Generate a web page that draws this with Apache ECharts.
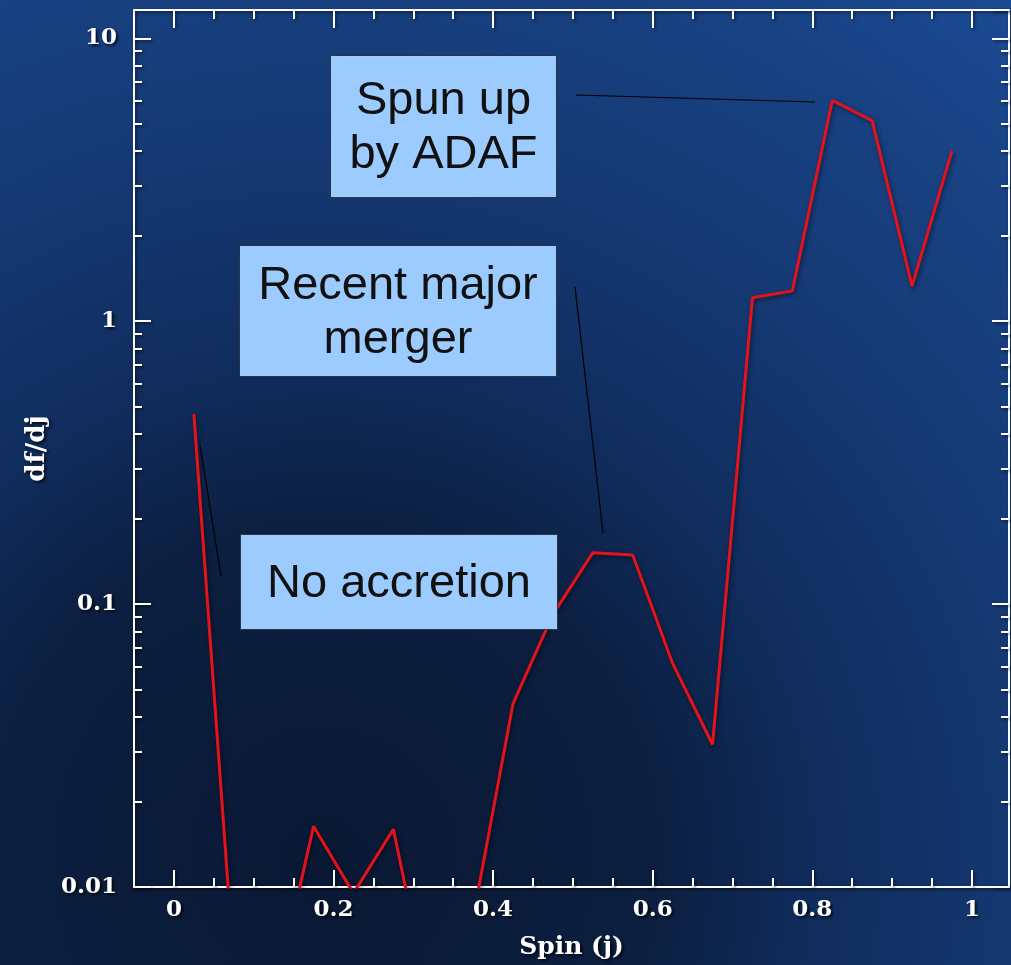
<!DOCTYPE html>
<html>
<head>
<meta charset="utf-8">
<script src="https://cdn.jsdelivr.net/npm/echarts@6/dist/echarts.min.js"></script>
<style>
html,body{margin:0;padding:0;background:#0f2b5a;}
#chart{width:1011px;height:965px;}
</style>
</head>
<body>
<div id="chart"></div>
<script>
// ---- data ----
var spinBins = [0.025, 0.075, 0.125, 0.175, 0.225, 0.275, 0.325, 0.375, 0.425, 0.475,
                0.525, 0.575, 0.625, 0.675, 0.725, 0.775, 0.825, 0.875, 0.925, 0.975];
var dfdj = [0.47, 0.0053, 0.0039, 0.0164, 0.0095, 0.0160, 0.0034, 0.0078, 0.0445, 0.092,
            0.152, 0.149, 0.0617, 0.0319, 1.21, 1.28, 6.03, 5.12, 1.33, 4.00];
var xMajorTicks = [0, 0.2, 0.4, 0.6, 0.8, 1];
var xMinorTicks = [0.05, 0.1, 0.15, 0.25, 0.3, 0.35, 0.45, 0.5, 0.55, 0.65, 0.7, 0.75, 0.85, 0.9, 0.95];
var yMajorTicks = [0.01, 0.1, 1, 10];
var yTickLabels = ['0.01', '0.1', '1', '10'];
var yMinorTicks = [0.02, 0.03, 0.04, 0.05, 0.06, 0.07, 0.08, 0.09,
                   0.2, 0.3, 0.4, 0.5, 0.6, 0.7, 0.8, 0.9,
                   2, 3, 4, 5, 6, 7, 8, 9];
var xRange = [-0.05, 1.0465];
var yRange = [0.01, 12.589];

// ---- chart ----
var chart = echarts.init(document.getElementById('chart'), null, {renderer: 'canvas'});
var white = '#ffffff';
var shadow = {shadowColor: 'rgba(0,0,0,0.55)', shadowBlur: 3, shadowOffsetX: 1.5, shadowOffsetY: 1.5};
var labelFont = {
  color: white, fontFamily: 'DejaVu Serif', fontWeight: 'bold', fontSize: 23,
  textShadowColor: 'rgba(0,0,0,0.75)', textShadowBlur: 3, textShadowOffsetX: 2, textShadowOffsetY: 2
};
function lineStyleW(w) { return Object.assign({color: white, width: w}, shadow); }

var data = spinBins.map(function (x, i) { return [x, dfdj[i]]; });
var logMin = Math.log10(yRange[0]), logMax = Math.log10(yRange[1]);
var yMinorLog = yMinorTicks.map(function (v) { return Math.log10(v); });

function xAxisDef(pos, ticks, len, showLine, showLabel) {
  return {
    type: 'value', position: pos, min: xRange[0], max: xRange[1], offset: 0,
    axisLine: {show: showLine, onZero: false, lineStyle: lineStyleW(2)},
    axisTick: {show: true, inside: true, length: len, customValues: ticks, lineStyle: lineStyleW(2)},
    axisLabel: showLabel ? Object.assign({show: true, margin: 12, customValues: ticks,
      formatter: function (v) { return String(v); }}, labelFont) : {show: false},
    splitLine: {show: false}
  };
}
function yMinorDef(pos) {
  return {
    type: 'value', position: pos, min: logMin, max: logMax, offset: 0,
    axisLine: {show: false, onZero: false},
    axisTick: {show: true, inside: true, length: 8, customValues: yMinorLog, lineStyle: lineStyleW(2)},
    axisLabel: {show: false},
    splitLine: {show: false}
  };
}
function yMajorDef(pos, showLabel) {
  return {
    type: 'log', logBase: 10, position: pos, min: yRange[0], max: yRange[1], offset: 0,
    axisLine: {show: true, onZero: false, lineStyle: lineStyleW(2)},
    axisTick: {show: true, inside: true, length: 17, lineStyle: lineStyleW(2)},
    axisLabel: showLabel ? Object.assign({show: true, margin: 17, showMaxLabel: false,
      formatter: function (v) {
        for (var i = 0; i < yMajorTicks.length; i++) {
          if (Math.abs(v - yMajorTicks[i]) < yMajorTicks[i] * 1e-6) return yTickLabels[i];
        }
        return '';
      }}, labelFont) : {show: false},
    splitLine: {show: false}
  };
}

var boxStyle = {fill: '#9ccbff', stroke: '#2b3440', lineWidth: 1};
var boxText = {fill: '#111111', font: '47px "Liberation Sans", Arial, sans-serif', align: 'center', verticalAlign: 'middle', lineHeight: 54};

var option = {
  animation: false,
  backgroundColor: 'transparent',
  grid: {left: 134, top: 10, width: 875, height: 877, containLabel: false, outerBoundsMode: 'none'},
  xAxis: [
    Object.assign(xAxisDef('bottom', xMajorTicks, 17, true, true), {
      name: 'Spin (j)', nameLocation: 'middle', nameGap: 48,
      nameTextStyle: Object.assign({}, labelFont, {fontSize: 25})
    }),
    xAxisDef('bottom', xMinorTicks, 9, false, false),
    xAxisDef('top', xMajorTicks, 18, true, false),
    xAxisDef('top', xMinorTicks, 9, false, false)
  ],
  yAxis: [
    Object.assign(yMajorDef('left', true), {
      name: 'df/dj', nameLocation: 'middle', nameGap: 80, nameRotate: 90,
      nameTextStyle: Object.assign({}, labelFont, {fontSize: 26})
    }),
    yMinorDef('left'),
    yMajorDef('right', false),
    yMinorDef('right')
  ],
  series: [{
    type: 'line', xAxisIndex: 0, yAxisIndex: 0, data: data,
    showSymbol: false, symbol: 'none', clip: true, z: 5,
    lineStyle: {color: '#e5121b', width: 3, shadowColor: 'rgba(0,0,0,0.5)', shadowBlur: 4, shadowOffsetX: 1.5, shadowOffsetY: 2}
  }],
  graphic: [
    {type: 'rect', z: -100, silent: true, shape: {x: 0, y: 0, width: 1011, height: 965},
      style: {fill: new echarts.graphic.RadialGradient(0.32, 0.89, 1.15, [
        {offset: 0, color: '#0a1834'},
        {offset: 0.3, color: '#0c1f40'},
        {offset: 0.43, color: '#0f2b5a'},
        {offset: 0.63, color: '#153872'},
        {offset: 0.83, color: '#184182'},
        {offset: 1, color: '#1b4b94'}
      ])}},
    // annotation pointer lines
    {type: 'line', z: 20, shape: {x1: 576, y1: 95, x2: 815, y2: 102}, style: {stroke: '#000000', lineWidth: 1.2}},
    {type: 'line', z: 20, shape: {x1: 575, y1: 287, x2: 603, y2: 533}, style: {stroke: '#000000', lineWidth: 1.2}},
    {type: 'line', z: 20, shape: {x1: 200, y1: 445, x2: 221, y2: 576}, style: {stroke: '#000000', lineWidth: 1.2}},
    // annotation boxes
    {type: 'rect', z: 20, shape: {x: 330.5, y: 55.5, width: 226, height: 142}, style: boxStyle},
    {type: 'text', z: 21, x: 443.5, y: 128, style: Object.assign({text: 'Spun up\nby ADAF'}, boxText)},
    {type: 'rect', z: 20, shape: {x: 239.5, y: 245.5, width: 317, height: 131}, style: boxStyle},
    {type: 'text', z: 21, x: 398, y: 313, style: Object.assign({text: 'Recent major\nmerger'}, boxText)},
    {type: 'rect', z: 20, shape: {x: 240.5, y: 534.5, width: 317, height: 95}, style: boxStyle},
    {type: 'text', z: 21, x: 399, y: 584, style: Object.assign({text: 'No accretion'}, boxText)}
  ]
};
chart.setOption(option);
</script>
</body>
</html>
